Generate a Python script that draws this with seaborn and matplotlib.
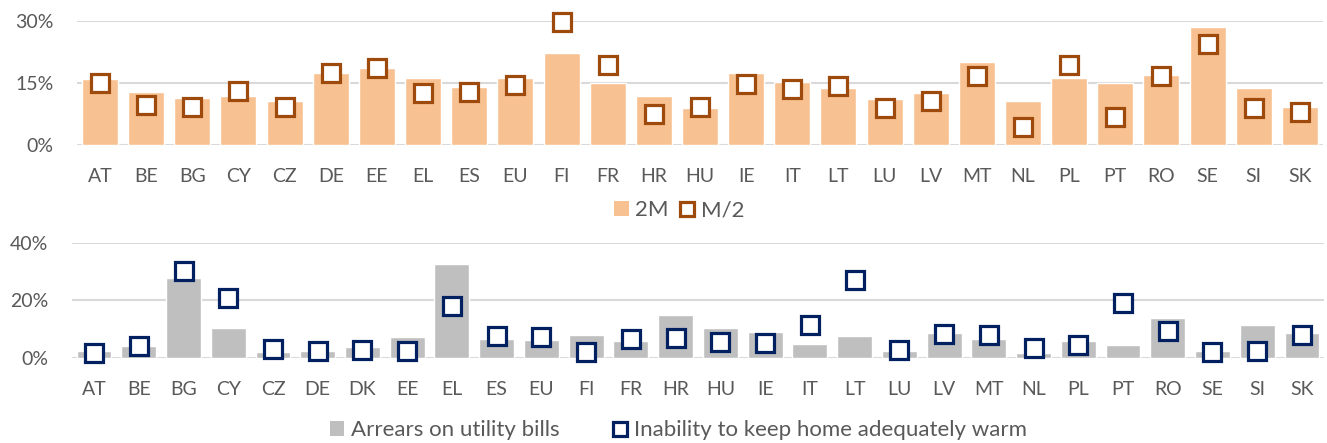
import numpy as np
import matplotlib
matplotlib.use('Agg')
import matplotlib.pyplot as plt
import seaborn as sns
from matplotlib.patches import Patch
from matplotlib.lines import Line2D
from matplotlib.ticker import PercentFormatter

# top panel: 2M vs M/2
top_countries = ['AT', 'BE', 'BG', 'CY', 'CZ', 'DE', 'EE', 'EL', 'ES', 'EU', 'FI', 'FR', 'HR', 'HU',
                 'IE', 'IT', 'LT', 'LU', 'LV', 'MT', 'NL', 'PL', 'PT', 'RO', 'SE', 'SI', 'SK']
two_m = [15.9, 12.8, 11.4, 11.8, 10.6, 17.3, 18.6, 16.1, 13.9, 16.1, 22.2, 14.9, 11.8, 8.8,
         17.5, 15.3, 13.7, 11.1, 12.6, 20.0, 10.6, 16.2, 14.9, 16.8, 28.6, 13.7, 9.1]
m_half = [14.9, 9.6, 9.2, 13.1, 9.1, 17.4, 18.7, 12.6, 12.8, 14.5, 29.7, 19.4, 7.4, 9.2,
          14.7, 13.4, 14.2, 8.8, 10.6, 16.6, 4.3, 19.4, 6.7, 16.6, 24.3, 8.8, 7.9]

# bottom panel: arrears vs inability to keep warm
bot_countries = ['AT', 'BE', 'BG', 'CY', 'CZ', 'DE', 'DK', 'EE', 'EL', 'ES', 'EU', 'FI', 'FR', 'HR',
                 'HU', 'IE', 'IT', 'LT', 'LU', 'LV', 'MT', 'NL', 'PL', 'PT', 'RO', 'SE', 'SI', 'SK']
arrears = [2.3, 4.0, 27.7, 10.4, 1.9, 2.1, 3.6, 7.1, 32.6, 6.5, 6.1, 7.7, 5.6, 14.9,
           10.2, 8.9, 4.6, 7.5, 2.3, 8.7, 6.4, 1.5, 5.8, 4.3, 13.7, 2.2, 11.3, 8.4]
warm = [1.6, 4.0, 30.1, 20.9, 2.8, 2.3, 2.7, 2.3, 17.9, 7.6, 7.0, 1.8, 6.3, 6.7,
        5.5, 5.0, 11.2, 26.9, 2.5, 8.2, 7.8, 3.2, 4.3, 18.9, 9.4, 2.0, 2.3, 7.8]

sns.set_style('white')
plt.rcParams['font.family'] = ['Lato', 'DejaVu Sans']

txt = '#595959'
grid = '#D9D9D9'

fig = plt.figure(figsize=(13.27, 4.43), dpi=100)
ax1 = fig.add_axes([0.058, 0.673, 0.939, 0.280])
ax2 = fig.add_axes([0.054, 0.193, 0.944, 0.259])


def panel(ax, cats, bars, pts, bar_col, pt_col, ymax, step):
    sns.barplot(x=cats, y=bars, color=bar_col, width=0.78, saturation=1, ax=ax, zorder=2)
    sns.pointplot(x=cats, y=pts, linestyle='none', marker='s', markersize=12.5,
                  markerfacecolor='white', markeredgecolor=pt_col, markeredgewidth=2.3,
                  color=pt_col, ax=ax, zorder=3)
    for ln in ax.lines:
        ln.set_clip_on(False)
    ax.set_xlim(-0.5, len(cats) - 0.5)
    ax.set_ylim(0, ymax)
    ax.set_yticks(np.arange(0, ymax + 0.1, step))
    ax.yaxis.set_major_formatter(PercentFormatter(decimals=0))
    ax.yaxis.grid(True, color=grid, lw=1.5, zorder=0)
    ax.set_axisbelow(True)
    for s in ax.spines.values():
        s.set_visible(False)
    ax.tick_params(axis='x', length=0, pad=17, labelsize=14, labelcolor=txt)
    ax.tick_params(axis='y', length=0, pad=17, labelsize=14, labelcolor=txt)


panel(ax1, top_countries, two_m, m_half, '#F8C191', '#9E4A0C', 30, 15)
panel(ax2, bot_countries, arrears, warm, '#BFBFBF', '#002060', 40, 20)

h1 = [Patch(facecolor='#F8C191', edgecolor='none', label='2M'),
      Line2D([], [], ls='none', marker='s', markersize=10.5, markerfacecolor='white',
             markeredgecolor='#9E4A0C', markeredgewidth=2.3, label='M/2')]
fig.legend(handles=h1, loc='center', bbox_to_anchor=(0.512, 0.525), ncol=2, frameon=False,
           fontsize=16, labelcolor=txt, handlelength=0.65, handleheight=0.65,
           handletextpad=0.3, columnspacing=0.5)

h2 = [Patch(facecolor='#BFBFBF', edgecolor='none', label='Arrears on utility bills'),
      Line2D([], [], ls='none', marker='s', markersize=10.5, markerfacecolor='white',
             markeredgecolor='#002060', markeredgewidth=2.3, label='Inability to keep home adequately warm')]
fig.legend(handles=h2, loc='center', bbox_to_anchor=(0.511, 0.029), ncol=2, frameon=False,
           fontsize=16, labelcolor=txt, handlelength=0.65, handleheight=0.65,
           handletextpad=0.3, columnspacing=2.4)

fig.savefig('out.png', dpi=100)
